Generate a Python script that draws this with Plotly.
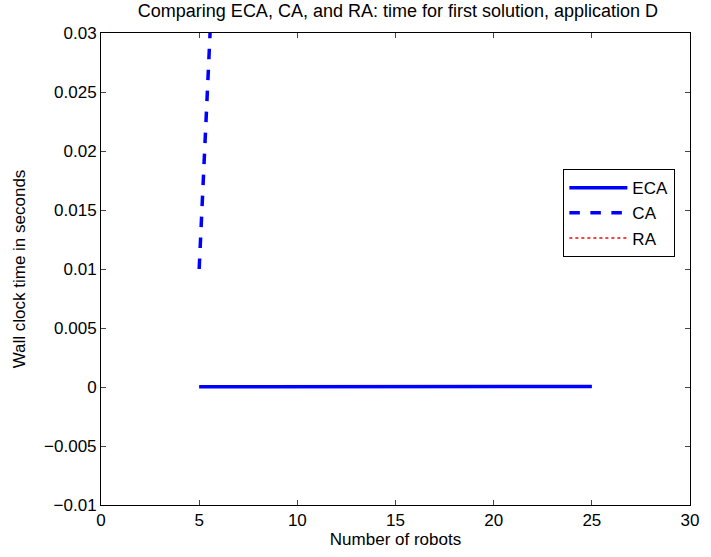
import plotly.graph_objects as go

robots = [5, 10, 15, 20, 25]
eca = [0.00002, 0.00003, 0.00003, 0.00004, 0.00005]
ca = [0.010, 0.19, 1.4, 6.5, 22.0]
ra = [0.00001, 0.00002, 0.00002, 0.00003, 0.00004]

ytick_vals = [-0.01, -0.005, 0, 0.005, 0.01, 0.015, 0.02, 0.025, 0.03]
ytick_text = ["\u22120.01", "\u22120.005", "0", "0.005", "0.01", "0.015", "0.02", "0.025", "0.03"]
xtick_vals = [0, 5, 10, 15, 20, 25, 30]

fig = go.Figure()
fig.add_trace(go.Scatter(x=robots, y=ra, name="RA", mode="lines",
                         line=dict(color="red", width=1, dash="dot"), showlegend=False))
fig.add_trace(go.Scatter(x=robots, y=eca, name="ECA", mode="lines",
                         line=dict(color="#0000ff", width=3.5)))
fig.add_trace(go.Scatter(x=robots, y=ca, name="CA", mode="lines",
                         line=dict(color="#0000ff", width=3.5, dash="dash")))
fig.add_trace(go.Scatter(x=[None], y=[None], name="RA", mode="lines",
                         line=dict(color="red", width=1.5, dash="dot")))

font = "Liberation Sans, Arial, sans-serif"
FS = 17
fig.update_layout(
    width=711, height=557,
    margin=dict(l=101, r=14, t=33, b=52),
    paper_bgcolor="white", plot_bgcolor="white",
    font=dict(family=font, size=FS, color="black"),
    title=dict(text="Comparing ECA, CA, and RA: time for first solution, application D",
               x=0.5597, xanchor="center", y=0.992, yanchor="top",
               font=dict(size=18, family=font)),
    showlegend=True,
    legend=dict(x=0.9748, xanchor="right", y=0.7119, yanchor="top",
                bgcolor="white", bordercolor="black", borderwidth=1.2,
                itemwidth=58,
                font=dict(size=FS, family=font), tracegroupgap=0),
)
fig.update_xaxes(range=[0, 30], tickvals=xtick_vals, ticks="inside", ticklen=5,
                 showline=True, linecolor="black", linewidth=1, mirror="ticks",
                 showgrid=False, zeroline=False,
                 title=dict(text="Number of robots", standoff=2, font=dict(size=FS)),
                 tickfont=dict(size=FS))
fig.update_yaxes(range=[-0.01, 0.03], tickvals=ytick_vals, ticktext=ytick_text,
                 ticks="inside", ticklen=5,
                 showline=True, linecolor="black", linewidth=1, mirror="ticks",
                 showgrid=False, zeroline=False,
                 title=dict(text="Wall clock time in seconds", standoff=14, font=dict(size=FS)),
                 tickfont=dict(size=FS))

fig.write_html("out.html")
